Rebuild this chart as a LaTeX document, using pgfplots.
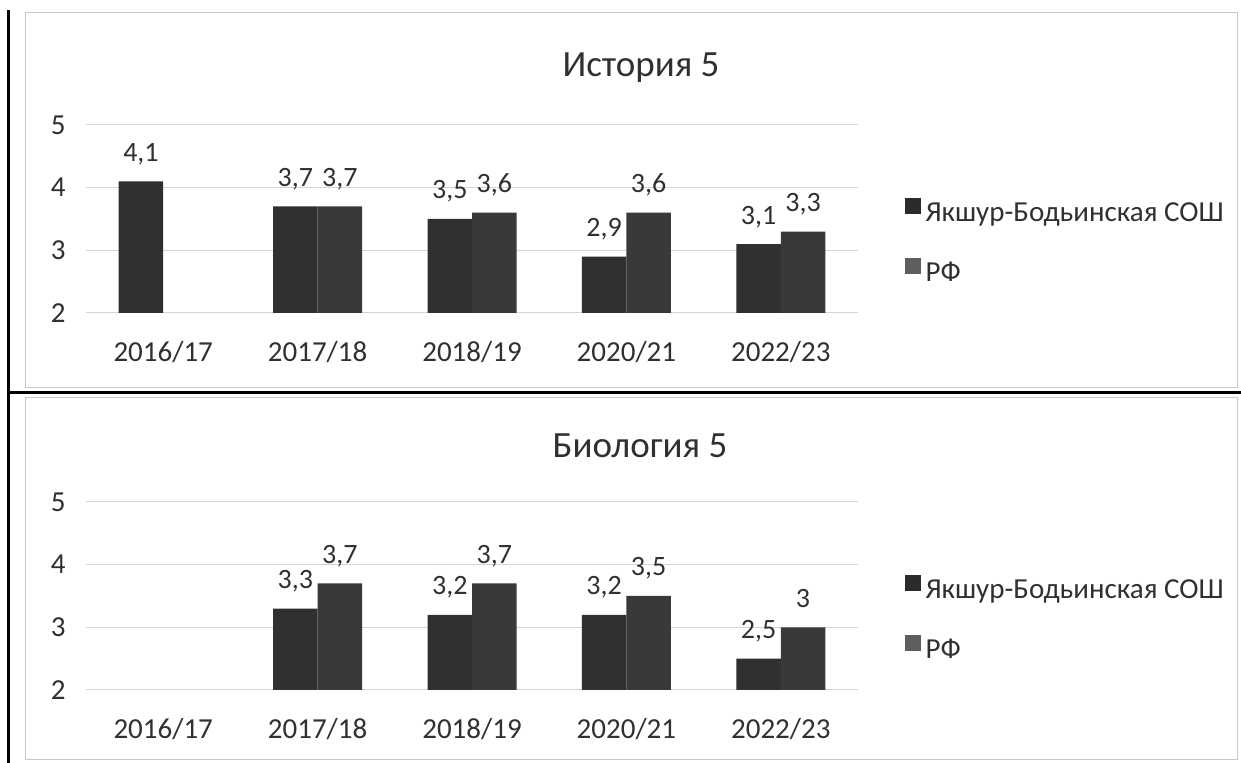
\documentclass[border=0pt]{standalone}
\usepackage{fontspec}
\setmainfont{Carlito}
\usepackage{pgfplots}
\pgfplotsset{compat=1.18}
\definecolor{txt}{HTML}{303030}
\definecolor{barA}{HTML}{303030}
\definecolor{barB}{HTML}{393939}
\definecolor{legA}{HTML}{2B2B2B}
\definecolor{legB}{HTML}{5E5E5E}
\definecolor{gridc}{HTML}{D4D4D4}
\definecolor{framec}{HTML}{C8C8C8}
\newcommand{\fs}{\fontsize{28bp}{33bp}\selectfont}
\newcommand{\ftk}{\fontsize{29bp}{34bp}\selectfont}
\newcommand{\fl}{\fontsize{29bp}{35bp}\selectfont}
\newcommand{\ft}{\fontsize{37bp}{43bp}\selectfont}

\pgfplotstableread{
x a b
0 4.1 nan
1 3.7 3.7
2 3.5 3.6
3 2.9 3.6
4 3.1 3.3
}\hist
\pgfplotstableread{
x a b
1 3.3 3.7
2 3.2 3.7
3 3.2 3.5
4 2.5 3.0
}\bio

\pgfplotsset{mychart/.style={
  scale only axis, width=772bp, height=188bp,
  xmin=-0.5, xmax=4.5, ymin=2, ymax=5,
  xtick={0,1,2,3,4}, xticklabels={2016/17,2017/18,2018/19,2020/21,2022/23},
  ytick={2,3,4,5},
  axis line style={draw=none}, major tick style={draw=none},
  ymajorgrids, grid style={gridc, line width=1bp},
  ybar=0pt, bar width=44.5bp,
  tick label style={font=\ftk, text=txt},
  yticklabel style={xshift=-17bp},
  xticklabel style={yshift=-21bp},
  /pgf/number format/assume math mode=true,
  /pgf/number format/use comma,
  nodes near coords,
  nodes near coords style={font=\fs, text=txt, anchor=base, inner sep=0pt, yshift=20bp},
  legend style={draw=none, fill=none, font=\fl, text=txt,
    at={(axis description cs:1.06,0.37)}, anchor=west, inner sep=0pt,
    nodes={inner sep=0pt, text height=21bp, text depth=7bp},
    row sep=29bp, column sep=5bp},
  legend cell align=left,
}}

\begin{document}
\begin{tikzpicture}[x=1bp,y=1bp]
\useasboundingbox (0,0) rectangle (1241,763);
\draw[framec, line width=1bp] (25,750) rectangle (1237,375);
\draw[framec, line width=1bp] (25,365) rectangle (1237,3);
\draw[black, line width=3bp] (8,0) -- (8,753);
\draw[black, line width=3bp] (8,370) -- (1241,370);

\node[font=\ft, text=txt] at (641,695) {История 5};
\node[font=\ft, text=txt] at (640,317) {Биология 5};

\begin{axis}[mychart, at={(86bp,450bp)}, anchor=south west]
\addplot[fill=barA, draw=none, legend image code/.code={\fill[legA] (0bp,1bp) rectangle (16bp,17bp);}] table[x=x,y=a] {\hist};
\addlegendentry{Якшур-Бодьинская СОШ}
\addplot[fill=barB, draw=none, legend image code/.code={\fill[legB] (0bp,1bp) rectangle (16bp,17bp);}] table[x=x,y=b] {\hist};
\addlegendentry{РФ}
\end{axis}

\begin{axis}[mychart, at={(86bp,73bp)}, anchor=south west]
\addplot[fill=barA, draw=none, legend image code/.code={\fill[legA] (0bp,1bp) rectangle (16bp,17bp);}] table[x=x,y=a] {\bio};
\addlegendentry{Якшур-Бодьинская СОШ}
\addplot[fill=barB, draw=none, legend image code/.code={\fill[legB] (0bp,1bp) rectangle (16bp,17bp);}] table[x=x,y=b] {\bio};
\addlegendentry{РФ}
\end{axis}
\end{tikzpicture}
\end{document}
